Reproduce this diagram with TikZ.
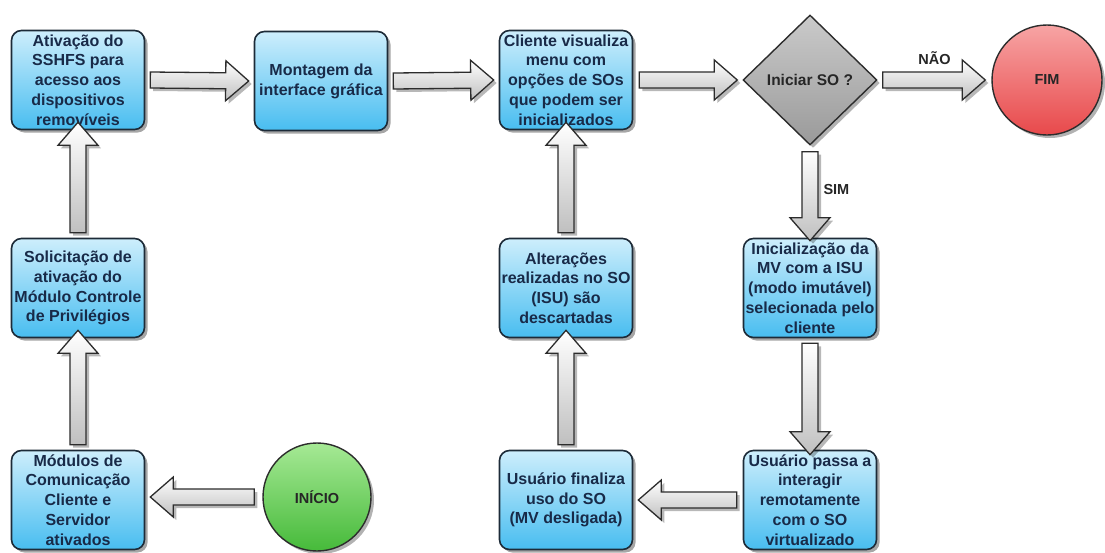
\documentclass[tikz,border=0pt]{standalone}
\usepackage{fontspec}
\setmainfont{Liberation Sans}
\usetikzlibrary{shapes.geometric,calc,shadows}
\definecolor{boxtop}{HTML}{CDEEFC}
\definecolor{boxbot}{HTML}{48BDF0}
\definecolor{boxline}{HTML}{1D2B38}
\definecolor{boxtext}{HTML}{182A48}
\definecolor{dtop}{HTML}{CACACA}
\definecolor{dbot}{HTML}{9A9A9A}
\definecolor{rtop}{HTML}{F7A4A4}
\definecolor{rbot}{HTML}{E8494B}
\definecolor{gtop}{HTML}{A6E995}
\definecolor{gbot}{HTML}{46BA3A}
\definecolor{darkline}{HTML}{2C2C2C}
\tikzset{
  x=1pt, y=1pt,
  procbox/.style={rectangle, rounded corners=10pt, minimum width=133pt, minimum height=99pt,
    inner sep=0pt, draw=boxline, line width=1.6pt, top color=boxtop, bottom color=boxbot,
    text=boxtext, align=center, font=\bfseries\fontsize{16}{19.8}\selectfont,
    drop shadow={shadow xshift=3pt, shadow yshift=-3pt, opacity=0.35, fill=black}},
  decbox/.style={diamond, minimum width=134pt, minimum height=130pt, inner sep=0pt,
    draw=darkline, line width=1.4pt, top color=dtop, bottom color=dbot, text=black!85,
    font=\bfseries\fontsize{15.5}{19}\selectfont,
    drop shadow={shadow xshift=3pt, shadow yshift=-3pt, opacity=0.3, fill=black}},
  endcirc/.style={circle, minimum size=#1, inner sep=0pt, draw=darkline, line width=1.4pt,
    font=\bfseries\fontsize{14.5}{16}\selectfont, text=black!85,
    drop shadow={shadow xshift=3pt, shadow yshift=-3pt, opacity=0.3, fill=black}},
  lbl/.style={font=\bfseries\fontsize{14.5}{16}\selectfont, text=black!85},
  ablock/.style={draw=darkline, line width=1.3pt, line join=miter, top color=white, bottom color=gray!50},
  ashadow/.style={fill=black, opacity=0.28},
}
\newcommand\barrow[2]{%
  \path (#1) coordinate (bp) (#2) coordinate (bq);
  \path ($(bq)!23pt!(bp)$) coordinate (bb);
  \begin{scope}[transform canvas={xshift=3pt,yshift=-3pt}]
  \path[ashadow] ($(bp)!8pt!90:(bq)$) -- ($(bb)!8pt!90:(bq)$) -- ($(bb)!20pt!90:(bq)$) -- (bq)
     -- ($(bb)!20pt!-90:(bq)$) -- ($(bb)!8pt!-90:(bq)$) -- ($(bp)!8pt!-90:(bq)$) -- cycle;
  \end{scope}
  \path[ablock] ($(bp)!8pt!90:(bq)$) -- ($(bb)!8pt!90:(bq)$) -- ($(bb)!20pt!90:(bq)$) -- (bq)
     -- ($(bb)!20pt!-90:(bq)$) -- ($(bb)!8pt!-90:(bq)$) -- ($(bp)!8pt!-90:(bq)$) -- cycle;
}
\begin{document}
\begin{tikzpicture}
\useasboundingbox[fill=white] (0,0) rectangle (1105,-552);

\node[procbox] (A) at (78,-80) {Ativação do\\SSHFS para\\acesso aos\\dispositivos\\removíveis};
\node[procbox] (B) at (321,-81) {Montagem da\\interface gráfica};
\node[procbox] (C) at (566,-80) {Cliente visualiza\\menu com\\opções de SOs\\que podem ser\\inicializados};
\node[decbox] (D) at (810,-80) {Iniciar SO ?};
\node[endcirc=110pt, top color=rtop, bottom color=rbot] (FIM) at (1047,-80) {FIM};
\node[procbox] (Init) at (810,-288) {Inicialização da\\MV com a ISU\\(modo imutável)\\selecionada pelo\\cliente};
\node[procbox] (Pass) at (810,-500) {Usuário passa a\\interagir\\remotamente\\com o SO\\virtualizado};
\node[procbox] (Fin) at (566,-500) {Usuário finaliza\\uso do SO\\(MV desligada)};
\node[procbox] (Alt) at (566,-288) {Alterações\\realizadas no SO\\(ISU) são\\descartadas};
\node[procbox] (Sol) at (78,-288) {Solicitação de\\ativação do\\Módulo Controle\\de Privilégios};
\node[procbox] (Mod) at (78,-500) {Módulos de\\Comunicação\\Cliente e\\Servidor\\ativados};
\node[endcirc=108pt, top color=gtop, bottom color=gbot] (Ini) at (317,-497) {INÍCIO};

\barrow{$(A.east)+(5,0)$}{$(B.west)+(-5,0)$}
\barrow{$(B.east)+(5,0)$}{$(C.west)+(-5,0)$}
\barrow{$(C.east)+(6,0)$}{$(D.west)+(-5,0)$}
\barrow{$(D.east)+(5,0)$}{$(FIM.west)+(-6,0)$}
\barrow{$(D.south)+(0,-6)$}{$(Init.north)+(0,-3)$}
\barrow{$(Init.south)+(0,-5)$}{$(Pass.north)+(0,-5)$}
\barrow{$(Pass.west)+(-6,0)$}{$(Fin.west-|Fin.east)+(5,0)$}
\barrow{$(Fin.north)+(0,5)$}{$(Alt.south)+(0,8)$}
\barrow{$(Alt.north)+(0,5)$}{$(C.south)+(0,8)$}
\barrow{$(Ini.west)+(-8,0)$}{$(Mod.east)+(5,3)$}
\barrow{$(Mod.north)+(0,5)$}{$(Sol.south)+(0,8)$}
\barrow{$(Sol.north)+(0,5)$}{$(A.south)+(0,8)$}

\node[lbl] (nao) at ($(D.east)!0.5!(FIM.west)+(0,22)$) {NÃO};
\node[lbl, anchor=west] (sim) at ($(D.south)!0.5!(Init.north)+(10,2)$) {SIM};
\end{tikzpicture}
\end{document}
